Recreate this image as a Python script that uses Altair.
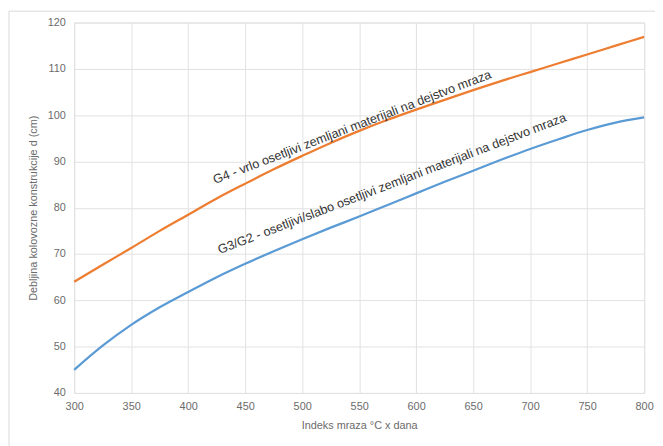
import altair as alt
import pandas as pd

# ---- data ----
frost_index = [300, 325, 350, 375, 400, 425, 450, 475, 500, 525, 550,
               575, 600, 625, 650, 675, 700, 725, 750, 775, 800]
g4_values = [64.0, 67.7, 71.3, 75.0, 78.5, 82.0, 85.2, 88.3, 91.2, 94.0, 96.6,
             99.0, 101.2, 103.3, 105.4, 107.4, 109.3, 111.2, 113.1, 115.0, 116.9]
g3g2_values = [45.0, 50.2, 54.7, 58.5, 61.8, 65.0, 67.9, 70.6, 73.2, 75.7, 78.1,
               80.6, 83.1, 85.6, 88.0, 90.4, 92.7, 94.8, 96.8, 98.4, 99.5]

series_names = ["G4", "G3/G2"]
series_colors = ["#ED7D31", "#5B9BD5"]

label_texts = [
    "G4 - vrlo osetljivi zemljani materijali  na dejstvo mraza",
    "G3/G2 - osetljivi/slabo osetljivi zemljani materijali na dejstvo mraza",
]
label_x = [546, 581]
label_y = [96.0, 83.8]

x_ticks = [300, 350, 400, 450, 500, 550, 600, 650, 700, 750, 800]
y_ticks = [40, 50, 60, 70, 80, 90, 100, 110, 120]

x_title = "Indeks mraza °C x dana"
y_title = "Debljina kolovozne konstrukcije d (cm)"

# ---- tables ----
rows = []
for x, a, b in zip(frost_index, g4_values, g3g2_values):
    rows.append({"x": x, "d": a, "s": series_names[0]})
    rows.append({"x": x, "d": b, "s": series_names[1]})
df = pd.DataFrame(rows)
labels = pd.DataFrame({"x": label_x, "y": label_y, "t": label_texts})

FONT = "Liberation Sans"
GRAY = "#6b6b6b"

xs = alt.Scale(domain=[300, 800], nice=False, zero=False)
ys = alt.Scale(domain=[40, 120], nice=False, zero=False)

axis_style = dict(
    grid=True, gridColor="#e2e2e2", domain=False, ticks=False,
    labelFont=FONT, titleFont=FONT, labelColor=GRAY, titleColor=GRAY,
    labelFontSize=11, titleFontSize=11, titleFontWeight="normal",
)

frame = alt.Chart(pd.DataFrame({"a": [0]})).mark_rect(
    fill=None, stroke="#d9d9d9", strokeWidth=1, clip=False
).encode(
    x=alt.value(-66), x2=alt.value(700),
    y=alt.value(-11.5), y2=alt.value(500),
)

lines = alt.Chart(df).mark_line(strokeWidth=2.25, interpolate="monotone").encode(
    x=alt.X("x:Q", scale=xs,
            axis=alt.Axis(values=x_ticks, title=x_title,
                          labelPadding=8, titlePadding=8, labelFlush=False,
                          **axis_style)),
    y=alt.Y("d:Q", scale=ys,
            axis=alt.Axis(values=y_ticks, title=y_title,
                          labelPadding=9, titlePadding=9, **axis_style)),
    color=alt.Color("s:N", scale=alt.Scale(domain=series_names, range=series_colors),
                    legend=None),
)

texts = alt.Chart(labels).mark_text(
    angle=339, fontSize=12.8, font=FONT, color="#333333", align="center", baseline="bottom"
).encode(
    x=alt.X("x:Q", scale=xs),
    y=alt.Y("y:Q", scale=ys),
    text="t:N",
)

chart = alt.layer(frame, lines, texts).properties(
    width=577, height=375,
    autosize=alt.AutoSizeParams(type="none"),
    padding={"left": 67, "top": 12, "right": 11, "bottom": 51},
).configure_view(
    fill="#f2f2f2", stroke=None
).configure(background="white")

chart.save("out.html", embed_options={"renderer": "svg", "actions": False})
